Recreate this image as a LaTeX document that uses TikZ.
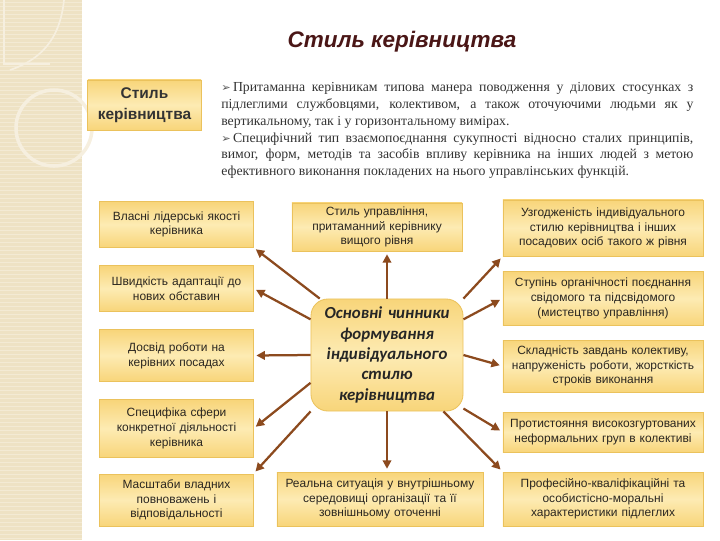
\documentclass[tikz,border=0pt]{standalone}
\usepackage{fontspec}
\setmainfont{Liberation Serif}
\setsansfont{Liberation Sans}
\newfontfamily\calfont{Carlito}
\newfontfamily\dingfont{DejaVu Sans}
\usepackage{xcolor}
\usepackage{tikz}
\usetikzlibrary{arrows.meta, positioning}

\definecolor{stripbg}{HTML}{EEE2C4}
\definecolor{stripln}{HTML}{F3EAD4}
\definecolor{stripdec}{HTML}{F6EFDF}
\definecolor{boxedge}{HTML}{EBC25C}
\definecolor{boxlight}{HTML}{FDEBB3}
\definecolor{boxdark}{HTML}{F8D57A}
\definecolor{arrowc}{HTML}{8C4A1E}
\definecolor{titlec}{HTML}{4A1616}
\definecolor{textc}{HTML}{2A2620}

\newcommand{\bul}{{\dingfont\color{black!65}\footnotesize ➢}\,}

\begin{document}
\begin{tikzpicture}[x=0.025cm, y=-0.025cm,
  every node/.style={font=\sffamily\fontsize{8.5}{10.5}\selectfont, text=textc},
  box/.style={rectangle, draw=boxedge, line width=0.6pt,
              top color=boxdark, bottom color=boxdark, middle color=boxlight,
              align=center, inner sep=2pt},
  lbox/.style={box, minimum width=3.83cm, text width=3.6cm},
  rbox/.style={box, minimum width=5cm, text width=4.8cm},
  arr/.style={-{Triangle[length=6pt, width=6pt]}, line width=1.6pt,
              draw=arrowc, shorten >=2pt}
]
\useasboundingbox (0,0) rectangle (720,540);

% --- Background strip ---
\fill[stripbg] (0,0) rectangle (82,540);
\foreach \y in {2,6,...,538}
  \draw[stripln, line width=0.4pt] (0,\y) -- (82,\y);
\draw[stripdec, line width=2.5pt] (54,128) circle[radius=38];
\draw[stripdec, line width=1.2pt] (4,0) -- (4,64) -- (50,64);
\draw[stripdec, line width=1.2pt] (64,0) .. controls (60,40) and (40,60) .. (10,70);

% --- Title and definition ---
\node[font=\sffamily\bfseries\itshape\fontsize{16}{19}\selectfont, text=titlec] (title) at (402,42) {Стиль керівництва};
\node[box, minimum width=2.83cm, minimum height=1.25cm,
      font=\sffamily\bfseries\fontsize{11}{15}\selectfont, text=black!80] (def) at (144.5,105) {Стиль\\керівництва};
\node[anchor=north west, text width=11.8cm, align=justify, inner sep=0pt,
      font=\rmfamily\fontsize{9.8}{12}\selectfont, text=black!80] (desc) at (221,82)
  {\bul Притаманна керівникам типова манера поводження у ділових стосунках з\linebreak
   підлеглими службовцями, колективом, а також оточуючими людьми як у\linebreak
   вертикальному, так і у горизонтальному вимірах.\\
   \bul Специфічний тип взаємопоєднання сукупності відносно сталих принципів,\linebreak
   вимог, форм, методів та засобів впливу керівника на інших людей з метою\linebreak
   ефективного виконання покладених на нього управлінських функцій.};

% --- Central node ---
\node[box, minimum width=3.8cm, minimum height=2.8cm, rounded corners=12pt, text width=3.6cm,
      font=\calfont\bfseries\itshape\fontsize{12}{14.5}\selectfont, text=black!85] (core) at (387,355)
  {Основні чинники\\формування\\індивідуального\\стилю\\керівництва};

% --- Left column ---
\node[lbox, minimum height=1.13cm] (lead)   at (176.5,224.5) {Власні лідерські якості\\керівника};
\node[lbox, minimum height=1.13cm] (adapt)  at (176.5,288.5) {Швидкість адаптації до\\нових обставин};
\node[lbox, minimum height=1.28cm] (exper)  at (176.5,355.5) {Досвід роботи на\\керівних посадах};
\node[lbox, minimum height=1.43cm] (sphere) at (176.5,428.5) {Специфіка сфери\\конкретної діяльності\\керівника};
\node[lbox, minimum height=1.3cm]  (power)  at (176.5,500)   {Масштаби владних\\повноважень і\\відповідальності};

% --- Middle column ---
\node[box, minimum width=4.25cm, minimum height=1.2cm, text width=4cm] (upper) at (377,227)
  {Стиль управління,\\притаманний керівнику\\вищого рівня};
\node[box, minimum width=5.15cm, minimum height=1.35cm, text width=5cm] (situ) at (380,499)
  {Реальна ситуація у внутрішньому\\середовищі організації та її\\зовнішньому оточенні};

% --- Right column ---
\node[rbox, minimum height=1.4cm]  (agree)   at (603,228)   {Узгодженість індивідуального\\стилю керівництва і інших\\посадових осіб такого ж рівня};
\node[rbox, minimum height=1.33cm] (organic) at (603,298.5) {Ступінь органічності поєднання\\свідомого та підсвідомого\\(мистецтво управління)};
\node[rbox, minimum height=1.3cm]  (tasks)   at (603,366)   {Складність завдань колективу,\\напруженість роботи, жорсткість\\строків виконання};
\node[rbox, minimum height=1cm]    (groups)  at (603,432)   {Протистояння високозгуртованих\\неформальних груп в колективі};
\node[rbox, minimum height=1.35cm] (staff)   at (603,499)   {Професійно-кваліфікаційні та\\особистісно-моральні\\характеристики підлеглих};

% --- Arrows ---
\draw[arr] (core.140)        -- (lead.south east);
\draw[arr] (core.155)        -- (adapt.east);
\draw[arr] (core.west)       -- (exper.east);
\draw[arr] (core.200)        -- (sphere.east);
\draw[arr] (core.south west) -- (power.north east);
\draw[arr] (core.north)      -- (core.north |- upper.south);
\draw[arr] (core.south)      -- (core.south |- situ.north);
\draw[arr] (core.north east) -- (agree.south west);
\draw[arr] (core.25)         -- (organic.west);
\draw[arr] (core.east)       -- (tasks.west);
\draw[arr] (core.-35)        -- (groups.west);
\draw[arr] (core.-45)        -- (staff.north west);

\end{tikzpicture}
\end{document}
